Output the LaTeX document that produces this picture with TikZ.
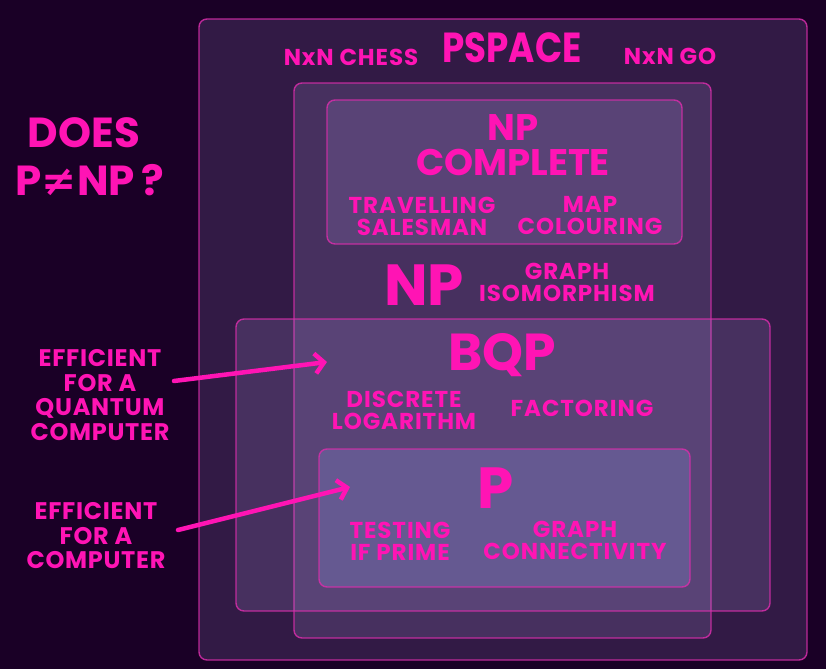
\documentclass[tikz,border=0pt]{standalone}
\usepackage{fontspec}
\setmainfont{Poppins}
\newfontfamily\condfont{Poppins}[FakeStretch=0.85]
\newfontfamily\spacedfont{Poppins}[LetterSpace=4]
\newfontfamily\sidefont{Poppins}[LetterSpace=3]
\newfontfamily\symfont{DejaVu Sans}
\usetikzlibrary{arrows.meta}
\definecolor{bg}{RGB}{26,0,38}
\definecolor{pinktxt}{RGB}{255,20,180}
\definecolor{edge}{RGB}{215,45,170}
\definecolor{veil}{RGB}{192,178,250}
\definecolor{pveil}{RGB}{150,180,255}
\begin{document}
\begin{tikzpicture}[x=1pt,y=-1pt,
  setbox/.style={draw=edge, draw opacity=0.85, line width=1.4pt, rounded corners=8pt, fill=veil, fill opacity=0.15},
  lbl/.style={text=pinktxt, align=center, inner sep=0pt, font=\spacedfont\bfseries\fontsize{23}{22}\selectfont},
  side/.style={lbl, font=\sidefont\bfseries\fontsize{24}{24.5}\selectfont},
  big/.style={lbl, font=\bfseries\fontsize{#1}{#1}\selectfont},
  pointer/.style={draw=pinktxt, line width=4.5pt, line cap=round, line join=round, -{Straight Barb[length=9pt,width=20pt,line width=4.5pt]}}
]
\fill[bg] (0,0) rectangle (826,669);
\useasboundingbox (0,0) rectangle (826,669);

% sets
\path[setbox] (199,19) rectangle (807,660);
\path[setbox] (294,83) rectangle (711,638);
\path[setbox] (327,100) rectangle (682,244);
\path[setbox] (236,319) rectangle (770,611);
\path[setbox, fill=pveil, fill opacity=0.2] (319,449) rectangle (690,587);

% PSPACE
\node[big=42, font=\condfont\bfseries\fontsize{42}{42}\selectfont] (pspace) at (512,48) {PSPACE};
\node[lbl, font=\spacedfont\bfseries\fontsize{23}{22}\selectfont] (chess) at (351,57) {NxN CHESS};
\node[lbl] (go) at (670,56) {NxN GO};

% question
\node[big=42] (does) at (84,133) {DOES};
\node[big=42] (pnp) at (90,180) {P{\symfont\bfseries ≠}NP\,?};

% NP complete
\node[big=37] (npc1) at (513,128) {NP};
\node[big=37] (npc2) at (513,162) {COMPLETE};
\node[lbl] (tsp) at (422,216) {TRAVELLING\\SALESMAN};
\node[lbl] (map) at (590,216) {MAP\\COLOURING};

% NP
\node[big=58] (np) at (424,285) {NP};
\node[lbl] (gi) at (567,282) {GRAPH\\ISOMORPHISM};

% BQP
\node[big=52] (bqp) at (502,355) {BQP};
\node[lbl] (dlog) at (404,410) {DISCRETE\\LOGARITHM};
\node[lbl] (fact) at (582,408) {FACTORING};

% P
\node[big=58] (p) at (496,488) {P};
\node[lbl] (prime) at (400,541) {TESTING\\IF PRIME};
\node[lbl] (conn) at (575,540) {GRAPH\\CONNECTIVITY};

% side labels
\node[side] (quant) at (100,395) {EFFICIENT\\FOR A\\QUANTUM\\COMPUTER};
\node[side] (class) at (96,536) {EFFICIENT\\FOR A\\COMPUTER};

\coordinate (qs) at (174,381);
\coordinate (qe) at (327,362);
\coordinate (cs) at (178,530);
\coordinate (ce) at (350,487);
\draw[pointer] (qs) -- (qe);
\draw[pointer] (cs) -- (ce);
\end{tikzpicture}
\end{document}
